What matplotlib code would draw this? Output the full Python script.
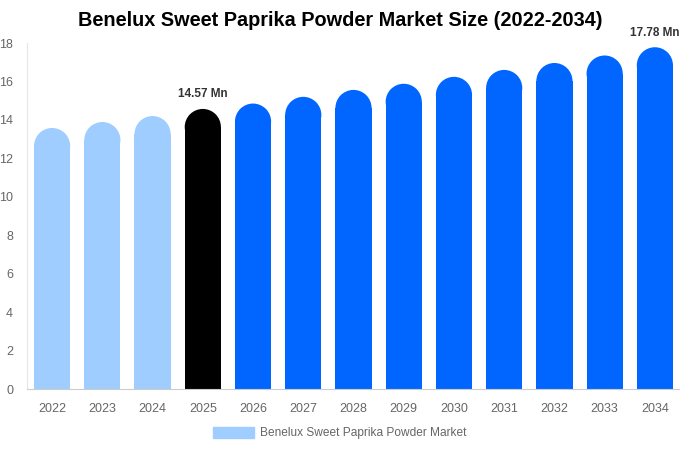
import matplotlib
matplotlib.use("Agg")
import matplotlib.pyplot as plt
from matplotlib.patches import Ellipse, Patch

plt.rcParams['font.family'] = ['Liberation Sans', 'DejaVu Sans']

years = ['2022', '2023', '2024', '2025', '2026', '2027', '2028',
         '2029', '2030', '2031', '2032', '2033', '2034']
values = [13.58, 13.89, 14.2, 14.57, 14.85, 15.2, 15.56,
          15.88, 16.24, 16.6, 16.96, 17.35, 17.78]
labels = {3: '14.57 Mn', 12: '17.78 Mn'}

light = '#a0cdff'
blue = '#0066ff'
colors = [light] * 3 + ['#000000'] + [blue] * 9

fig = plt.figure(figsize=(6.8, 4.5), dpi=100)
ax = fig.add_axes([27 / 680, 61 / 450, 653 / 680, 346 / 450])
ax.set_xlim(-0.5, len(years) - 0.5)
ax.set_ylim(0, 18)

width = 0.72
# radius of the round cap in data units (x: half bar, y: same pixels)
px_per_x = 653 / len(years)
px_per_y = 346 / 18
ry = (width / 2) * px_per_x / px_per_y

for i, v in enumerate(values):
    ax.bar(i, v - ry, width=width, color=colors[i], linewidth=0)
    ax.add_patch(Ellipse((i, v - ry), width, 2 * ry, color=colors[i], linewidth=0))
    if i in labels:
        ax.text(i, v + 0.45, labels[i], ha='center', va='bottom',
                fontsize=8.5, fontweight='bold', color='#333333')

ax.set_xticks(range(len(years)))
ax.set_xticklabels(years)
ax.set_yticks(range(0, 19, 2))
ax.tick_params(axis='both', length=0, labelsize=9, labelcolor='#666666')
ax.tick_params(axis='x', pad=10)
ax.tick_params(axis='y', pad=10)

for s in ['top', 'right']:
    ax.spines[s].set_visible(False)
ax.spines['left'].set_color('#e6e6e6')
ax.spines['bottom'].set_color('#cccccc')

fig.text(0.5, 1 - 21 / 450, 'Benelux Sweet Paprika Powder Market Size (2022-2034)',
         ha='center', va='center', fontsize=14.3, fontweight='bold', color='#000000')

fig.legend(handles=[Patch(color=light, label='Benelux Sweet Paprika Powder Market')],
           loc='center', bbox_to_anchor=(0.5, 1 - 433 / 450), frameon=False,
           fontsize=8.6, labelcolor='#666666', handlelength=3.4, handleheight=1.1,
           handletextpad=0.5)

fig.savefig('out.png', dpi=100)
